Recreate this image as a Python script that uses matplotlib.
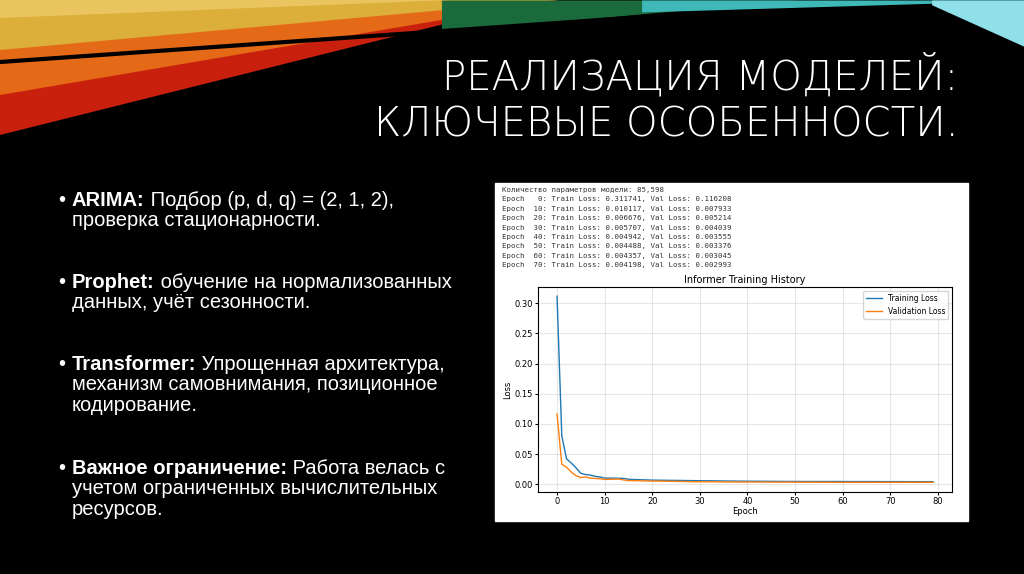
import numpy as np
import matplotlib.pyplot as plt
from matplotlib.patches import Rectangle

# --- data ---
epochs = list(range(80))
train_loss = [0.3117, 0.080, 0.042, 0.035, 0.027, 0.018, 0.016, 0.015, 0.013, 0.012,
              0.0101, 0.0100, 0.0100, 0.0098, 0.0095, 0.0082, 0.0077, 0.0075, 0.0072, 0.0070,
              0.0067, 0.0066, 0.0065, 0.0064, 0.0063, 0.0062, 0.0061, 0.0060, 0.0059, 0.0058,
              0.0057, 0.0056, 0.0056, 0.0055, 0.0054, 0.0053, 0.0052, 0.0051, 0.0050, 0.0050,
              0.0049, 0.0049, 0.0048, 0.0048, 0.0047, 0.0047, 0.0046, 0.0046, 0.0045, 0.0045,
              0.0045, 0.0045, 0.0044, 0.0044, 0.0044, 0.0044, 0.0044, 0.0044, 0.0044, 0.0044,
              0.0044, 0.0043, 0.0043, 0.0043, 0.0043, 0.0043, 0.0043, 0.0042, 0.0042, 0.0042,
              0.0042, 0.0042, 0.0042, 0.0042, 0.0041, 0.0041, 0.0041, 0.0041, 0.0041, 0.0041]
val_loss = [0.1162, 0.033, 0.028, 0.020, 0.014, 0.011, 0.012, 0.010, 0.0095, 0.009,
            0.0079, 0.0080, 0.0082, 0.0085, 0.0070, 0.0060, 0.0058, 0.0057, 0.0055, 0.0053,
            0.0052, 0.0051, 0.0050, 0.0049, 0.0048, 0.0046, 0.0045, 0.0044, 0.0042, 0.0041,
            0.0040, 0.0040, 0.0039, 0.0039, 0.0038, 0.0038, 0.0037, 0.0037, 0.0036, 0.0036,
            0.0036, 0.0035, 0.0035, 0.0035, 0.0035, 0.0034, 0.0034, 0.0034, 0.0034, 0.0034,
            0.0034, 0.0033, 0.0033, 0.0033, 0.0032, 0.0032, 0.0031, 0.0031, 0.0031, 0.0030,
            0.0030, 0.0030, 0.0030, 0.0030, 0.0030, 0.0030, 0.0030, 0.0030, 0.0030, 0.0030,
            0.0030, 0.0030, 0.0030, 0.0030, 0.0030, 0.0030, 0.0030, 0.0030, 0.0030, 0.0030]

log_lines = [
    "Количество параметров модели: 85,598",
    "Epoch   0: Train Loss: 0.311741, Val Loss: 0.116208",
    "Epoch  10: Train Loss: 0.010117, Val Loss: 0.007933",
    "Epoch  20: Train Loss: 0.006676, Val Loss: 0.005214",
    "Epoch  30: Train Loss: 0.005707, Val Loss: 0.004039",
    "Epoch  40: Train Loss: 0.004942, Val Loss: 0.003555",
    "Epoch  50: Train Loss: 0.004488, Val Loss: 0.003376",
    "Epoch  60: Train Loss: 0.004357, Val Loss: 0.003045",
    "Epoch  70: Train Loss: 0.004198, Val Loss: 0.002993",
]

title_lines = ["РЕАЛИЗАЦИЯ МОДЕЛЕЙ:", "КЛЮЧЕВЫЕ ОСОБЕННОСТИ."]
bullets = [
    ("ARIMA:", [" Подбор (p, d, q) = (2, 1, 2),", "проверка стационарности."]),
    ("Prophet:", [" обучение на нормализованных", "данных, учёт сезонности."]),
    ("Transformer:", [" Упрощенная архитектура,", "механизм самовнимания, позиционное", "кодирование."]),
    ("Важное ограничение:", [" Работа велась с", "учетом ограниченных вычислительных", "ресурсов."]),
]
bullet_y = [200, 282, 364, 468]

W, H = 1024, 574
fig = plt.figure(figsize=(W / 100, H / 100), dpi=100, facecolor="black")

# background layer in pixel coordinates
bg = fig.add_axes([0, 0, 1, 1])
bg.set_xlim(0, W)
bg.set_ylim(H, 0)
bg.axis("off")
bg.add_patch(Rectangle((0, 0), W, H, color="black"))

# decorative swoosh at the top
x = np.linspace(0, W, 400)
bg.fill_between(x, 0, np.clip(135 - 0.25 * x, 0, None), color="#c8200c", lw=0)
bg.fill_between(x, 0, np.clip(95 - 0.17 * x, 0, None), color="#e46a18", lw=0)
bg.fill_between(x, 0, np.clip(50 - 0.09 * x, 0, None), color="#dcae3a", lw=0)
m = x < 700
bg.plot(x[m], 62 - 0.07 * x[m], color="black", lw=3)
xs = x[(x > 440) & (x < 800)]
bg.fill_between(xs, 0, np.clip(32 - 0.09 * (xs - 440), 0, None), color="#1b6a3c", lw=0)
xs2 = x[x > 640]
bg.fill_between(xs2, 0, np.clip(12 - 0.03 * (xs2 - 640), 0, None), color="#3fb8b8", lw=0)
xs3 = x[x > 930]
bg.fill_between(xs3, 0, 4 + 0.45 * (xs3 - 930), color="#8fe0e8", lw=0)
bg.fill_between(x, 0, np.clip(18 - 0.04 * x, 0, None), color="#f0d070", lw=0, alpha=0.7)

# title
for i, t in enumerate(title_lines):
    bg.text(958, 75 + i * 50, t, color="white", fontsize=29, ha="right", va="center",
            fontweight="light")

# bullets
bfont = ["Liberation Sans", "DejaVu Sans"]
bsize = 14.5
fig.canvas.draw()
renderer = fig.canvas.get_renderer()
for (head, rest), y0 in zip(bullets, bullet_y):
    bg.text(58, y0, "•", color="white", fontsize=bsize, va="center", family=bfont)
    hb = bg.text(72, y0, head, color="white", fontsize=bsize, fontweight="bold", va="center",
                 family=bfont)
    ext = hb.get_window_extent(renderer)
    bg.text(ext.x1, y0, rest[0], color="white", fontsize=bsize, va="center", family=bfont)
    for j, line in enumerate(rest[1:], start=1):
        bg.text(72, y0 + j * 20.7, line, color="white", fontsize=bsize, va="center", family=bfont)

# white inset
bg.add_patch(Rectangle((495, 183), 473, 338, color="white"))
for i, line in enumerate(log_lines):
    bg.text(502, 190 + i * 9.4, line, color="#333333", fontsize=5.3, va="center",
            family="DejaVu Sans Mono")

# loss chart
ax = fig.add_axes([538 / W, 1 - 492 / H, (952 - 538) / W, (492 - 287) / H])
ax.plot(epochs, train_loss, color="#1f77b4", lw=1, label="Training Loss")
ax.plot(epochs, val_loss, color="#ff7f0e", lw=1, label="Validation Loss")
ax.set_title("Informer Training History", fontsize=7, pad=3)
ax.set_xlabel("Epoch", fontsize=6, labelpad=1)
ax.set_ylabel("Loss", fontsize=6, labelpad=2)
ax.set_xticks(range(0, 81, 10))
ax.set_yticks([0.0, 0.05, 0.10, 0.15, 0.20, 0.25, 0.30])
ax.tick_params(labelsize=6, length=2, pad=1.5)
ax.set_xlim(-4, 83)
ax.set_ylim(-0.013, 0.327)
ax.grid(True, alpha=0.3)
ax.legend(fontsize=5.5, loc="upper right")

fig.savefig("out.png", dpi=100, facecolor="black")
